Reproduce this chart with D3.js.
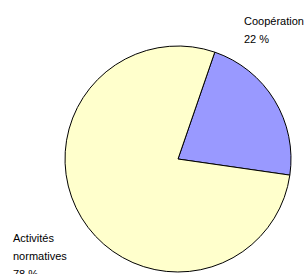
<!DOCTYPE html>
<html>
<head>
<meta charset="utf-8">
<script src="https://cdn.jsdelivr.net/npm/d3@7"></script>
<style>
  body { margin: 0; background: #fff; }
  svg { display: block; }
  text { font-family: "Liberation Sans", Arial, sans-serif; font-size: 11px; fill: #000; }
</style>
</head>
<body>
<svg id="chart" width="304" height="274"></svg>
<script>
// slice data
const categories = ["Coopération", "Activités normatives"];
const values = [22, 78];
const labels = ["22 %", "78 %"];
const colors = ["#9999ff", "#ffffcc"];

const svg = d3.select("#chart");
const cx = 178, cy = 159, radius = 113;

// first slice starts ~19 degrees clockwise from 12 o'clock
const startDeg = 19;
const pie = d3.pie()
  .sort(null)
  .startAngle(startDeg * Math.PI / 180)
  .endAngle((startDeg + 360) * Math.PI / 180);
const arc = d3.arc().innerRadius(0).outerRadius(radius);

const g = svg.append("g").attr("transform", `translate(${cx},${cy})`);
g.selectAll("path")
  .data(pie(values))
  .join("path")
  .attr("d", arc)
  .attr("fill", (d, i) => colors[i])
  .attr("stroke", "#000")
  .attr("stroke-width", 1);

// labels placed outside the pie
const labelLines = [
  { x: 244, y: 25, lines: ["Coopération", labels[0]] },
  { x: 13, y: 242, lines: ["Activités", "normatives", labels[1]] }
];
labelLines.forEach((l) => {
  const t = svg.append("text").attr("x", l.x).attr("y", l.y);
  l.lines.forEach((s, i) => {
    t.append("tspan").attr("x", l.x).attr("dy", i === 0 ? 0 : 18).text(s);
  });
});
</script>
</body>
</html>
